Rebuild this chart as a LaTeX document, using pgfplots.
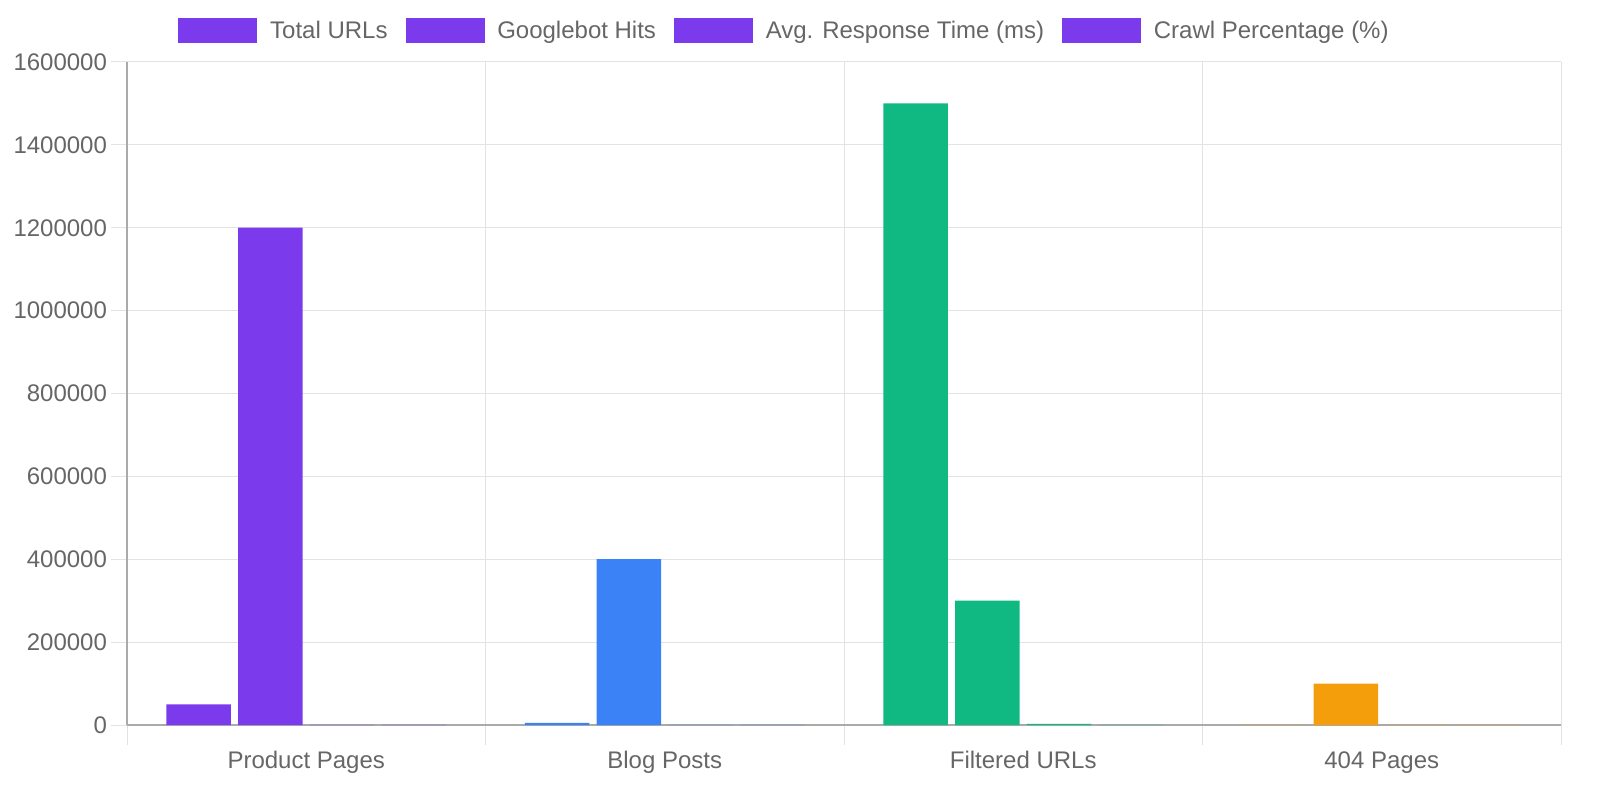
\documentclass[border=0pt]{standalone}
\usepackage{pgfplots}
\pgfplotsset{compat=1.18}
\usepackage{fontspec}
\setmainfont{Liberation Sans}
\definecolor{cpurple}{HTML}{7C3AED}
\definecolor{cblue}{HTML}{3B82F6}
\definecolor{cgreen}{HTML}{10B981}
\definecolor{corange}{HTML}{F59E0B}
\definecolor{txt}{HTML}{666666}
\definecolor{gridc}{HTML}{E3E3E3}
\definecolor{axisc}{HTML}{AAAAAA}
\begin{document}
\begin{tikzpicture}
\begin{axis}[
  at={(63.5bp,37.5bp)}, anchor=south west,
  scale only axis, width=717bp, height=331.5bp,
  xmin=-0.5, xmax=3.5, ymin=0, ymax=1600000,
  axis x line*=bottom, axis y line*=left,
  axis line style={draw=axisc, line width=0.75pt},
  xtick={0,1,2,3},
  xticklabels={Product Pages, Blog Posts, Filtered URLs, 404 Pages},
  minor xtick={-0.5,0.5,1.5,2.5,3.5},
  major x tick style={draw=none},
  minor x tick style={draw=gridc, line width=0.5bp},
  minor tick length=10bp,
  xminorgrids, minor x grid style={draw=gridc, line width=0.5bp},
  ytick distance=200000,
  ymajorgrids, major y grid style={draw=gridc, line width=0.5bp},
  major y tick style={draw=gridc, line width=0.5bp},
  major tick length=8bp,
  tick align=outside,
  scaled y ticks=false,
  /pgf/number format/assume math mode=true,
  yticklabel style={/pgf/number format/fixed, /pgf/number format/1000 sep={}, font=\fontsize{12bp}{14bp}\selectfont, text=txt, xshift=1.5bp},
  xticklabel style={font=\fontsize{12bp}{14bp}\selectfont, text=txt, text height=9bp, text depth=2.5bp, yshift=-1bp},
  ybar, bar width=0.18, bar shift=0pt,
  legend columns=4,
  legend style={at={(0.4592,1)}, anchor=south, yshift=8.3bp, draw=none, fill=none,
    font=\fontsize{12bp}{14bp}\selectfont, text=txt,
    /tikz/every even column/.append style={column sep=7bp},
    inner sep=0pt},
  legend image code/.code={\fill[cpurple] (0pt,-6bp) rectangle (39bp,6bp); \path (43.5bp,0);},
]
\addlegendimage{}\addlegendentry{Total URLs}
\addlegendimage{}\addlegendentry{Googlebot Hits}
\addlegendimage{}\addlegendentry{Avg. Response Time (ms)}
\addlegendimage{}\addlegendentry{Crawl Percentage (\%)}
\addplot[fill=cpurple, draw=none, forget plot] coordinates {(-0.3,50000) (-0.1,1200000) (0.1,320) (0.3,75)};
\addplot[fill=cblue, draw=none, forget plot] coordinates {(0.7,5000) (0.9,400000) (1.1,180) (1.3,80)};
\addplot[fill=cgreen, draw=none, forget plot] coordinates {(1.7,1500000) (1.9,300000) (2.1,2500) (2.3,20)};
\addplot[fill=corange, draw=none, forget plot] coordinates {(2.7,500) (2.9,100000) (3.1,90) (3.3,6.67)};
\end{axis}
\pgfresetboundingbox
\useasboundingbox (0,0) rectangle (800bp,400bp);
\end{tikzpicture}
\end{document}
